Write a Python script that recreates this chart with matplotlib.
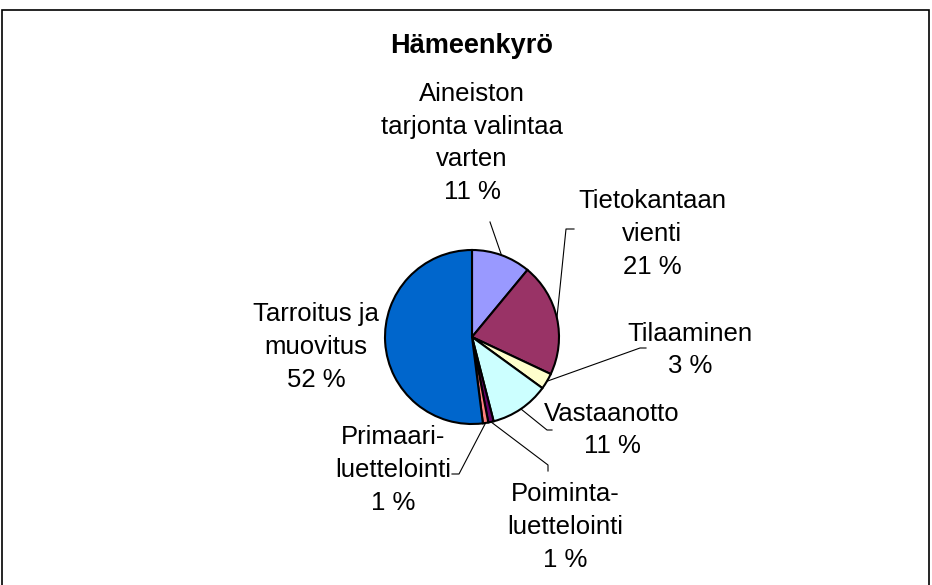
import numpy as np
import matplotlib.pyplot as plt
from matplotlib.patches import Rectangle

plt.rcParams['font.family'] = ['Liberation Sans', 'DejaVu Sans']

# chart data (clockwise from 12 o'clock)
title = 'Hämeenkyrö'
labels = ['Aineiston\ntarjonta valintaa\nvarten', 'Tietokantaan\nvienti', 'Tilaaminen',
          'Vastaanotto', 'Poiminta-\nluettelointi', 'Primaari-\nluettelointi',
          'Tarroitus ja\nmuovitus']
shares = [11, 21, 3, 11, 1, 1, 52]
colors = ['#9999FF', '#993366', '#FFFFCC', '#CCFFFF', '#660066', '#FF8080', '#0066CC']

W, H = 932, 585
# label centres and leader elbows in pixel coords (y down)
label_pos = [(472, 143), (652, 234), (690, 350), (612, 430), (565, 527), (393, 470), (316, 347)]
elbows = [[(490, 222)],
          [(566, 229), (574, 229)],
          [(640, 348), (646, 348)],
          [(547, 430), (552, 430)],
          [(548, 465), (548, 471)],
          [(459, 474), (452, 474)],
          None]

fig = plt.figure(figsize=(W / 100, H / 100), dpi=100)
ax = fig.add_axes([0, 0, 1, 1])

cx, cy, r = 472, 337, 87
wedges, _ = ax.pie(shares, colors=colors, startangle=90, counterclock=False,
                   center=(cx, H - cy), radius=r, frame=True,
                   wedgeprops=dict(edgecolor='black', linewidth=1.5))
ax.set_xlim(0, W)
ax.set_ylim(0, H)
ax.axis('off')

# outer frame
ax.add_patch(Rectangle((2, H - 620), 927, 620 - 10, fill=False, edgecolor='black', lw=1.2))

ax.text(472, H - 46, title, ha='center', va='center', fontsize=19.5, fontweight='bold')

for w, lab, val, pos, elb in zip(wedges, labels, shares, label_pos, elbows):
    ax.text(pos[0], H - pos[1], f'{lab}\n{val} %', ha='center', va='center',
            fontsize=18.5, linespacing=1.45)
    if elb is None:
        continue
    mid = np.deg2rad((w.theta1 + w.theta2) / 2)
    px = cx + r * np.cos(mid)
    py = (H - cy) + r * np.sin(mid)
    xs = [px] + [e[0] for e in elb]
    ys = [py] + [H - e[1] for e in elb]
    ax.plot(xs, ys, color='black', lw=0.8)

fig.savefig('out.png', dpi=100)
